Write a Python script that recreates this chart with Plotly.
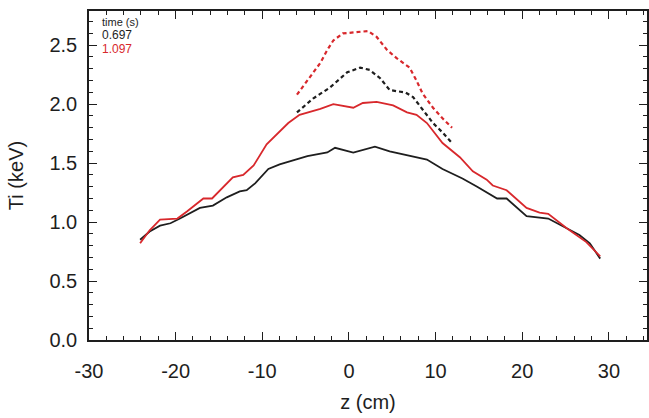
import plotly.graph_objects as go

# 0.697 s, solid (full profile)
z_black = [-24.1, -23.0, -21.8, -20.6, -19.5, -17.2, -15.7, -14.1, -12.6, -11.8, -10.8, -9.3, -8.0,
           -6.5, -4.8, -2.5, -1.6, 0.5, 2.0, 3.0, 4.7, 6.7, 9.0, 10.8, 11.4, 13.1, 14.8, 17.1, 18.2,
           20.5, 23.0, 25.1, 26.6, 27.8, 29.0]
ti_black = [0.85, 0.92, 0.97, 0.99, 1.03, 1.12, 1.14, 1.21, 1.26, 1.27, 1.33, 1.45, 1.49,
            1.52, 1.56, 1.59, 1.63, 1.59, 1.62, 1.64, 1.60, 1.57, 1.53, 1.45, 1.43, 1.37, 1.30, 1.20, 1.20,
            1.05, 1.03, 0.95, 0.89, 0.82, 0.69]

# 1.097 s, solid (full profile)
z_red = [-24.1, -23.0, -21.8, -19.8, -18.7, -16.8, -15.8, -13.4, -12.2, -11.0, -9.5, -8.0, -7.0,
         -5.7, -3.3, -1.8, 0.5, 1.6, 3.2, 5.1, 6.7, 7.8, 9.0, 10.8, 12.8, 14.3, 15.9, 16.6, 18.2,
         20.5, 22.0, 23.0, 25.1, 27.4, 29.0]
ti_red = [0.82, 0.93, 1.02, 1.03, 1.09, 1.20, 1.20, 1.38, 1.40, 1.48, 1.66, 1.77, 1.84,
          1.91, 1.96, 2.00, 1.97, 2.01, 2.02, 1.99, 1.93, 1.91, 1.84, 1.67, 1.55, 1.43, 1.36, 1.31, 1.27,
          1.12, 1.08, 1.07, 0.95, 0.83, 0.71]

# 0.697 s, dashed (core profile)
z_black_d = [-6.0, -4.1, -2.2, -0.2, 1.3, 2.4, 3.6, 4.7, 5.5, 6.5, 7.4, 8.5, 9.7, 10.8, 11.9]
ti_black_d = [1.93, 2.05, 2.14, 2.27, 2.31, 2.29, 2.22, 2.12, 2.11, 2.10, 2.06, 1.95, 1.84, 1.76, 1.67]

# 1.097 s, dashed (core profile)
z_red_d = [-6.0, -4.8, -3.3, -2.5, -1.8, -0.7, 0.9, 2.2, 3.2, 4.4, 5.5, 7.0, 7.8, 8.5, 9.7, 10.8, 11.9]
ti_red_d = [2.08, 2.20, 2.35, 2.46, 2.54, 2.60, 2.61, 2.62, 2.57, 2.46, 2.39, 2.31, 2.20, 2.09, 1.97, 1.88, 1.80]

x_tickvals = [-30, -20, -10, 0, 10, 20, 30]
x_ticktext = ["-30", "-20", "-10", "0", "10", "20", "30"]
y_tickvals = [0, 0.5, 1.0, 1.5, 2.0, 2.5]
y_ticktext = ["0.0", "0.5", "1.0", "1.5", "2.0", "2.5"]

legend_title = "time (s)"
times = ["0.697", "1.097"]

BLACK = "#1e1e1e"
RED = "#d8282c"

fig = go.Figure()
fig.add_trace(go.Scatter(x=z_black, y=ti_black, mode="lines", line=dict(color=BLACK, width=1.8)))
fig.add_trace(go.Scatter(x=z_red, y=ti_red, mode="lines", line=dict(color=RED, width=1.8)))
fig.add_trace(go.Scatter(x=z_black_d, y=ti_black_d, mode="lines",
                         line=dict(color=BLACK, width=2.2, dash="4px,3px")))
fig.add_trace(go.Scatter(x=z_red_d, y=ti_red_d, mode="lines",
                         line=dict(color=RED, width=2.2, dash="4px,3px")))

font = "Liberation Sans, Arial, sans-serif"
fig.add_annotation(x=0.02, y=0.967, xref="paper", yref="paper", text=legend_title, showarrow=False,
                   xanchor="left", yanchor="middle", font=dict(family=font, size=11, color=BLACK))
fig.add_annotation(x=0.02, y=0.927, xref="paper", yref="paper", text=times[0], showarrow=False,
                   xanchor="left", yanchor="middle", font=dict(family=font, size=12, color=BLACK))
fig.add_annotation(x=0.02, y=0.884, xref="paper", yref="paper", text=times[1], showarrow=False,
                   xanchor="left", yanchor="middle", font=dict(family=font, size=12, color=RED))

axis_common = dict(showline=True, linecolor=BLACK, linewidth=1.5, mirror="ticks", ticks="inside",
                   tickcolor=BLACK, tickwidth=1.2, ticklen=8, showgrid=False, zeroline=False,
                   automargin=False, tickfont=dict(family=font, size=20, color=BLACK))

fig.update_xaxes(range=[-30, 34.4], tickmode="array", tickvals=x_tickvals, ticktext=x_ticktext,
                 ticklabelstandoff=12,
                 minor=dict(ticks="inside", dtick=2, ticklen=4, tickcolor=BLACK, tickwidth=1),
                 title=dict(text="z (cm)", font=dict(family=font, size=20, color=BLACK), standoff=14),
                 **axis_common)
fig.update_yaxes(range=[0, 2.79], tickmode="array", tickvals=y_tickvals, ticktext=y_ticktext,
                 ticklabelstandoff=6,
                 minor=dict(ticks="inside", dtick=0.1, ticklen=4, tickcolor=BLACK, tickwidth=1),
                 title=dict(text="Ti (keV)", font=dict(family=font, size=20, color=BLACK), standoff=20),
                 **axis_common)

fig.update_layout(width=649, height=418, margin=dict(l=89, r=2, t=11, b=78),
                  paper_bgcolor="white", plot_bgcolor="white", showlegend=False)

fig.write_html("out.html", config={"displayModeBar": False},
               post_script="document.body.style.margin='0';")
